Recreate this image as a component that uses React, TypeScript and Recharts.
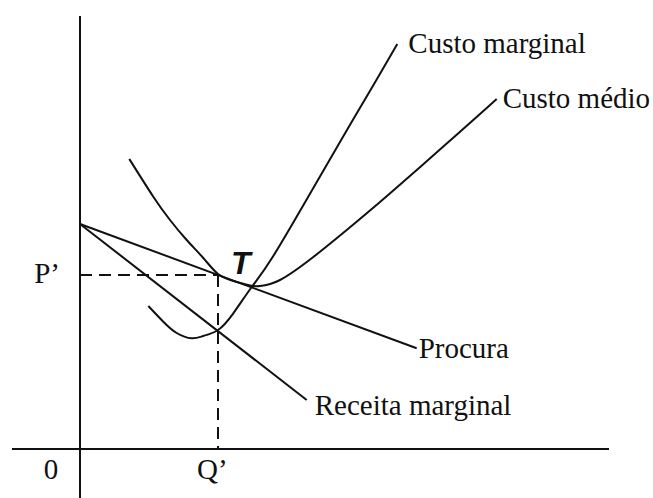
import { LineChart, Line, XAxis, YAxis, ReferenceLine, ReferenceDot } from "recharts";

// Monopoly equilibrium: quantity on x, price on y
const P_STAR = 17.4;
const Q_STAR = 13.8;

const demand = [
  { q: 0, p: 22.5 },
  { q: 33.67, p: 10.07 },
];

const marginalRevenue = [
  { q: 0, p: 22.5 },
  { q: 22.67, p: 4.9 },
];

const marginalCost = [
  { q: 6.83, p: 14.3 },
  { q: 8.33, p: 12.73 },
  { q: 9.67, p: 11.6 },
  { q: 11.17, p: 11.07 },
  { q: 12.33, p: 11.3 },
  { q: 13.8, p: 11.9 },
  { q: 15.33, p: 13.57 },
  { q: 17.17, p: 16.2 },
  { q: 19.33, p: 19.3 },
  { q: 23.33, p: 26.1 },
  { q: 26.67, p: 31.85 },
  { q: 29.67, p: 36.95 },
  { q: 31.73, p: 40.5 },
];

const averageCost = [
  { q: 4.93, p: 29 },
  { q: 7.33, p: 25.23 },
  { q: 9, p: 22.9 },
  { q: 10.67, p: 20.9 },
  { q: 12.33, p: 19.1 },
  { q: 13.8, p: 17.5 },
  { q: 15.33, p: 16.8 },
  { q: 17, p: 16.35 },
  { q: 18, p: 16.3 },
  { q: 20, p: 16.9 },
  { q: 23.33, p: 19.2 },
  { q: 26.67, p: 21.9 },
  { q: 30, p: 24.7 },
  { q: 33.33, p: 27.6 },
  { q: 36.67, p: 30.55 },
  { q: 40, p: 33.5 },
  { q: 41.67, p: 35.0 },
];

const curveLabels = ["Custo marginal", "Custo médio", "Procura", "Receita marginal"];
const axisLabels = ["P’", "0", "Q’"];
const pointLabel = "T";

const INK = "#111";
const SERIF = "'Liberation Serif', 'Times New Roman', serif";

const textAt =
  (value: string, dx: number, dy: number, anchor = "start", style: any = {}) =>
  (props: any) => {
    const vb = props.viewBox || {};
    const x = (vb.x ?? 0) + (vb.width ?? 0) / 2;
    const y = (vb.y ?? 0) + (vb.height ?? 0) / 2;
    return (
      <text
        x={x + dx}
        y={y + dy}
        textAnchor={anchor}
        fill={INK}
        fontFamily={SERIF}
        fontSize={29}
        {...style}
      >
        {value}
      </text>
    );
  };

const last = (arr: { q: number; p: number }[]) => arr[arr.length - 1];

export default function App() {
  const lineProps = {
    dataKey: "p",
    stroke: INK,
    strokeWidth: 2,
    dot: false,
    activeDot: false,
    isAnimationActive: false,
  } as const;

  return (
    <div style={{ position: "absolute", left: 0, top: 0, background: "#fff" }}>
      <LineChart width={653} height={498} margin={{ top: 0, right: 0, bottom: 0, left: 0 }}>
        <XAxis type="number" dataKey="q" domain={[-8, 57.3]} hide allowDataOverflow />
        <YAxis type="number" domain={[-4.9, 44.9]} hide allowDataOverflow />

        {/* axes */}
        <ReferenceLine segment={[{ x: 0, y: -4.9 }, { x: 0, y: 43.3 }]} stroke={INK} strokeWidth={2} />
        <ReferenceLine segment={[{ x: -6.8, y: 0 }, { x: 52.9, y: 0 }]} stroke={INK} strokeWidth={2} />

        {/* equilibrium guides */}
        <ReferenceLine
          segment={[{ x: 0, y: P_STAR }, { x: Q_STAR, y: P_STAR }]}
          stroke={INK}
          strokeWidth={2}
          strokeDasharray="12 7"
        />
        <ReferenceLine
          segment={[{ x: Q_STAR, y: P_STAR }, { x: Q_STAR, y: 0 }]}
          stroke={INK}
          strokeWidth={2}
          strokeDasharray="12 7"
        />

        <Line {...lineProps} data={demand} type="linear" />
        <Line {...lineProps} data={marginalRevenue} type="linear" />
        <Line {...lineProps} data={marginalCost} type="natural" />
        <Line {...lineProps} data={averageCost} type="natural" />

        {/* curve names */}
        <ReferenceDot x={last(marginalCost).q} y={last(marginalCost).p} r={0} label={textAt(curveLabels[0], 11, 9)} />
        <ReferenceDot x={last(averageCost).q} y={last(averageCost).p} r={0} label={textAt(curveLabels[1], 6, 9)} />
        <ReferenceDot x={last(demand).q} y={last(demand).p} r={0} label={textAt(curveLabels[2], 2, 10)} />
        <ReferenceDot
          x={last(marginalRevenue).q}
          y={last(marginalRevenue).p}
          r={0}
          label={textAt(curveLabels[3], 8, 15)}
        />

        {/* axis marks */}
        <ReferenceDot x={0} y={P_STAR} r={0} label={textAt(axisLabels[0], -20, 8, "end")} />
        <ReferenceDot x={0} y={0} r={0} label={textAt(axisLabels[1], -29, 30, "middle")} />
        <ReferenceDot x={Q_STAR} y={0} r={0} label={textAt(axisLabels[2], -21, 30)} />

        {/* tangency point */}
        <ReferenceDot
          x={Q_STAR}
          y={P_STAR}
          r={0}
          label={textAt(pointLabel, 13, -1, "start", {
            fontFamily: "'Liberation Sans', Arial, sans-serif",
            fontWeight: "bold",
            fontStyle: "italic",
            fontSize: 32,
          })}
        />
      </LineChart>
    </div>
  );
}
